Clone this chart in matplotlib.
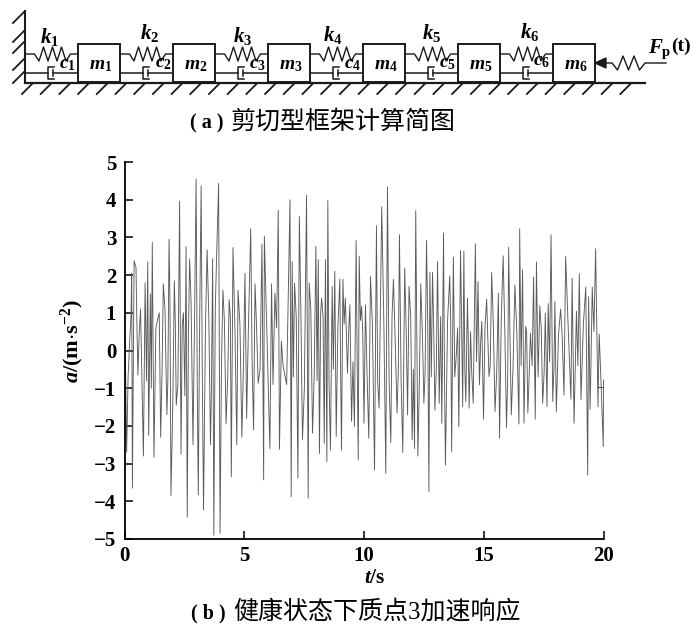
import numpy as np
import matplotlib
matplotlib.use('Agg')
import matplotlib.pyplot as plt

plt.rcParams['font.family'] = ['Liberation Serif', 'Noto Sans CJK SC']
plt.rcParams['mathtext.fontset'] = 'custom'
plt.rcParams['mathtext.rm'] = 'Liberation Serif:bold'
plt.rcParams['mathtext.it'] = 'Liberation Serif:italic:bold'
plt.rcParams['mathtext.bf'] = 'Liberation Serif:bold'

# acceleration response
t_s = [0.00, 0.03, 0.09, 0.22, 0.30, 0.33, 0.40, 0.48, 0.56, 0.67, 0.79, 0.86, 0.92, 0.97, 1.01, 1.08,
       1.16, 1.23, 1.39, 1.51, 1.62, 1.77, 1.86, 1.94, 2.08, 2.16, 2.30, 2.36, 2.46, 2.57, 2.62, 2.72,
       2.78, 2.86, 2.99, 3.08, 3.20, 3.30, 3.45, 3.59, 3.68, 3.73, 3.85, 3.93, 3.99, 4.11, 4.24, 4.37,
       4.46, 4.53, 4.69, 4.74, 4.90, 5.03, 5.10, 5.27, 5.39, 5.45, 5.58, 5.74, 5.81, 5.84, 6.07, 6.14,
       6.28, 6.42, 6.47, 6.55, 6.77, 6.91, 6.96, 7.00, 7.10, 7.24, 7.30, 7.43, 7.60, 7.67, 7.71, 7.85,
       7.99, 8.09, 8.14, 8.23, 8.34, 8.39, 8.45, 8.49, 8.60, 8.67, 8.78, 8.84, 8.99, 9.06, 9.12, 9.22,
       9.31, 9.41, 9.48, 9.60, 9.67, 9.76, 9.80, 9.90, 10.00, 10.06, 10.20, 10.27, 10.44, 10.52, 10.63,
       10.74, 10.91, 10.98, 11.12, 11.23, 11.38, 11.48, 11.62, 11.70, 11.82, 11.88, 12.01, 12.11, 12.16,
       12.25, 12.37, 12.50, 12.61, 12.71, 12.75, 12.86, 12.96, 13.07, 13.14, 13.25, 13.32, 13.40, 13.58,
       13.66, 13.73, 13.85, 13.96, 14.03, 14.12, 14.17, 14.25, 14.32, 14.39, 14.45, 14.56, 14.65, 14.76,
       14.82, 14.92, 14.99, 15.12, 15.22, 15.33, 15.47, 15.61, 15.66, 15.81, 15.95, 16.04, 16.15, 16.30,
       16.47, 16.50, 16.62, 16.68, 16.75, 16.84, 16.95, 17.08, 17.15, 17.20, 17.34, 17.46, 17.57, 17.64,
       17.69, 17.81, 17.88, 17.97, 18.03, 18.21, 18.35, 18.42, 18.64, 18.69, 18.77, 18.87, 18.99, 19.06,
       19.26, 19.34, 19.38, 19.44, 19.53, 19.67, 19.77, 19.82, 19.99, 20.00]
a_ms2 = [-1.0, 0.25, -2.7, 0.3, 2.05, -3.65, 2.38, 2.2, -0.65, 1.1, -2.8, 1.8, -0.8, 2.35, -2.25, 1.5,
         2.87, -2.83, 0.85, -2.3, 1.77, -1.7, 2.95, -3.85, 1.85, -1.45, 3.96, -2.75, 1.0, 2.75, -4.42, 2.43,
         1.27, -2.5, 4.55, -3.83, 4.37, -4.23, 2.67, -2.5, 2.43, -4.9, 2.6, 4.43, -4.85, 1.6, -1.95, 1.35,
         -3.35, 2.73, -2.5, 1.6, -2.3, 2.05, -1.8, 3.23, -2.1, 1.77, -0.87, 2.82, -3.43, 3.03, -2.6, 1.77,
         1.52, 3.72, -2.62, 0.25, -0.9, 4.0, -3.88, 2.36, 1.79, -3.39, 3.56, -2.37, 4.12, -3.92, 1.79, -2.19,
         2.76, 2.41, -2.73, 1.39, -2.46, 2.41, -2.95, 3.98, -2.64, 1.7, 2.1, -2.28, 1.89, -2.64, 1.89, 1.39,
         -0.6, 1.21, -1.88, -2.02, 2.92, -2.9, 2.5, 1.17, -1.93, 1.21, -2.33, 1.96, -3.17, 3.31, -1.53,
         3.81, -3.26, 4.34, -2.44, 1.89, -1.66, 3.07, -2.71, 2.19, -1.71, 1.7, -2.37, -2.6, 3.71,
         -2.8, 1.77, -1.4, 2.92, -3.74, 2.07, 2.07, -1.58, 2.36, -1.4, -1.93, 3.12, -3.04, 1.98,
         -2.68, 2.48, -0.16, -2.02, 2.65, -1.49, 2.63, -1.35, 1.39, -1.53, 0.5, -1.4, 2.83, 1.83,
         -0.91, 0.77, -1.82, 1.36, -0.69, 2.07, -1.62, 1.52, -2.33, 2.51, -2.04, 2.74, -1.71, 1.74,
         -1.95, 3.23, 2.14, -1.93, 0.64, -1.66, 0.46, 1.95, -1.82, 2.35, 1.19, -1.4, 0.99, -1.49,
         1.24, 3.07, -1.35, 1.3, -1.62, 1.1, -1.18, 2.5, -1.29, 1.92, -1.93, 1.04, 2.04, -1.31,
         1.68, -3.3, 1.43, -1.56, 1.68, 2.7, -1.49, 0.44, -2.55, -0.78]

# smaller swings inside the dense central band
t_band = [0.15, 0.27, 0.52, 0.61, 0.73, 1.12, 1.31, 1.45, 1.57, 1.69, 1.81, 1.90, 2.02, 2.12, 2.23, 2.41,
          2.52, 2.67, 2.82, 2.93, 3.04, 3.14, 3.25, 3.38, 3.52, 3.63, 3.79, 4.05, 4.17, 4.31, 4.42, 4.61,
          4.82, 4.96, 5.17, 5.33, 5.51, 5.66, 5.95, 6.20, 6.35, 6.62, 7.05, 7.17, 7.37, 7.51, 7.78, 7.92,
          8.04, 8.19, 8.29, 8.54, 8.72, 8.91, 9.03, 9.17, 9.36, 9.54, 9.72, 9.85, 9.95, 10.13, 10.35, 10.57,
          10.68, 10.83, 11.05, 11.17, 11.30, 11.43, 11.55, 11.76, 11.95, 12.06, 12.20, 12.31, 12.44, 12.55,
          12.66, 12.81, 12.91, 13.02, 13.20, 13.36, 13.49, 13.62, 13.79, 13.91, 14.08, 14.21, 14.35, 14.50,
          14.70, 14.87, 15.05, 15.17, 15.27, 15.40, 15.54, 15.73, 15.88, 16.00, 16.09, 16.22, 16.38, 16.56,
          16.79, 16.90, 17.02, 17.27, 17.40, 17.52, 17.75, 17.93, 18.12, 18.28, 18.52, 18.82, 18.93, 19.16,
          19.47, 19.60, 19.72, 19.90]
a_band = [-0.7, 0.9, 0.6, 0.4, -0.9, -1.0, 0.6, 1.0, -0.5, 1.1, -0.8, 1.2, -1.3, 0.8, -0.9, 0.7,
          -1.2, 0.5, -0.6, 1.1, -1.1, 0.9, -0.8, 0.6, 0.9, -1.0, 1.1, -0.3, 0.8, -0.7, 0.9, 0.6,
          0.7, -0.6, 0.5, -0.4, 0.7, -0.5, 0.3, -0.9, 0.6, -0.4, -0.7, 0.9, 0.8, -1.0, 1.1, -0.7,
          -0.8, 1.0, 0.9, -0.8, -0.5, 0.6, -0.9, 0.7, 0.5, -0.3, -0.6, 0.8, 0.4, -0.7, 0.7, -0.8,
          1.0, 0.7, -0.9, 0.9, 0.3, -0.6, -0.8, 0.6, 0.9, -0.5, 0.7, -0.9, 0.4, -0.6,
          0.8, -0.7, 0.6, -0.5, 0.9, -0.6, 0.8, 0.7, -0.7, 0.6, 0.5, -0.5, 0.4, -0.6,
          -0.3, 0.2, 0.6, 0.3, -0.4, 0.7, -0.6, 0.8, 0.5, -0.7, 0.6, -0.5, 0.5, -0.4,
          0.5, -0.6, -0.4, -0.7, 0.6, -0.6, -0.3, -0.5, 0.4, 0.3, 0.7, -0.5, -0.4, 0.7,
          -0.6, 0.5, 0.6, -0.9]
x_ticks = [0, 5, 10, 15, 20]
y_ticks = [-5, -4, -3, -2, -1, 0, 1, 2, 3, 4, 5]

# schematic (a), in image pixels
mass_left = [78, 173, 268, 363, 458, 553]
mass_w = 42
mass_top, mass_bot = 44, 82
spring_y, damper_y, ground_y = 54, 72.5, 83
wall_x = 25
hatch_wall_y = [23, 42, 53, 70, 83]
k_pos = [(50, 37), (150, 33), (243, 36), (333, 35), (432, 33), (530, 32)]
c_pos = [(67, 65), (163, 64), (258, 65), (353, 65), (447, 64), (542, 62)]
ink = '#1a1a1a'


def zigzag(x0, x1, y, n=4, amp=7):
    xs = np.linspace(x0, x1, 2 * n + 1)
    ys = [y] + [y + (amp if i % 2 == 0 else -amp) for i in range(2 * n - 1)] + [y]
    return xs, ys


fig = plt.figure(figsize=(7, 6.39), dpi=100)

# full-figure axes in pixels for the drawing and captions
bg = fig.add_axes([0, 0, 1, 1])
bg.set_xlim(0, 700)
bg.set_ylim(639, 0)
bg.axis('off')

bg.plot([wall_x, wall_x], [10, ground_y], color=ink, lw=1.5, solid_capstyle='butt')
bg.plot([wall_x, 645], [ground_y, ground_y], color=ink, lw=1.6)
for y in hatch_wall_y:
    bg.plot([wall_x, wall_x - 12], [y - 12, y], color=ink, lw=1.3)
for x in np.arange(22, 625, 18.7):
    bg.plot([x + 10, x], [ground_y + 1, ground_y + 11], color=ink, lw=1.3)

lefts = [wall_x] + [m + mass_w for m in mass_left[:-1]]
for i, (x0, m) in enumerate(zip(lefts, mass_left)):
    bg.add_patch(plt.Rectangle((m, mass_top), mass_w, mass_bot - mass_top, fc='white', ec=ink, lw=1.4, zorder=3))
    # spring
    mid = (x0 + m) / 2
    xs, ys = zigzag(mid - 17, mid + 19, spring_y)
    bg.plot([x0, *xs, m], [spring_y, *ys, spring_y], color=ink, lw=1.0)
    # damper
    dx = mid - 4
    bg.plot([x0, dx], [damper_y, damper_y], color=ink, lw=1.1)
    bg.plot([dx + 6, dx, dx, dx + 6], [damper_y - 6, damper_y - 6, damper_y + 6, damper_y + 6], color=ink, lw=1.1)
    bg.plot([dx + 5, dx + 5], [damper_y - 3, damper_y + 3], color=ink, lw=1.1)
    bg.plot([dx + 5, m], [damper_y, damper_y], color=ink, lw=1.1)
    bg.text(*k_pos[i], r'$k_{\mathrm{%d}}$' % (i + 1), fontsize=15, ha='center', va='center', color='black')
    bg.text(*c_pos[i], r'$c_{\mathrm{%d}}$' % (i + 1), fontsize=14, ha='center', va='center', color='black')
    bg.text(m + mass_w / 2 + 2, 66, r'$m_{\mathrm{%d}}$' % (i + 1), fontsize=14, ha='center', va='center', color='black', zorder=4)

# load on the last mass
xs, ys = zigzag(612, 645, 63, n=3)
bg.plot([605, *xs, 666], [63, *ys, 63], color=ink, lw=1.0)
bg.fill([595, 606, 606], [63, 58, 68], color=ink, zorder=4)
bg.text(648, 49, r'$F_{\mathrm{p}}$', fontsize=15, ha='left', va='center', color='black')
bg.text(671, 46, '(t)', fontsize=14, fontweight='bold', ha='left', va='center', color='black')

# captions
bg.text(190, 123, '( a )', fontsize=14.5, fontweight='bold', ha='left', va='center')
bg.text(231, 122, '剪切型框架计算简图', fontsize=18, ha='left', va='center', family=['Noto Sans CJK SC'])
bg.text(191, 613, '( b )', fontsize=14.5, fontweight='bold', ha='left', va='center')
bg.text(233, 612, '健康状态下质点3加速响应', fontsize=18, ha='left', va='center', family=['Liberation Serif', 'Noto Sans CJK SC'])

# response plot (b)
order = np.argsort(t_s + t_band)
t_all = np.array(t_s + t_band)[order]
a_all = np.array(a_ms2 + a_band)[order]

ax = fig.add_axes([124.5 / 700, (639 - 539) / 639, 479 / 700, 377 / 639])
ax.patch.set_alpha(0)
ax.plot(t_all, a_all, color='#5a5a5a', lw=0.65)
ax.plot([19.77, 19.99], [-0.97, -0.97], color='#303030', lw=0.6)
ax.set_xlim(0, 20)
ax.set_ylim(-5, 5)
ax.set_xticks(x_ticks)
ax.set_yticks(y_ticks)
ax.set_yticklabels(['\u2212%d' % -v if v < 0 else str(v) for v in y_ticks])
ax.spines['top'].set_visible(False)
ax.spines['right'].set_visible(False)
ax.spines['left'].set_linewidth(1.3)
ax.spines['bottom'].set_linewidth(1.3)
ax.tick_params(direction='in', length=6, width=1.1, labelsize=15)
ax.tick_params(axis='x', pad=5)
ax.tick_params(axis='y', pad=6)
for lab in ax.get_xticklabels() + ax.get_yticklabels():
    lab.set_fontweight('bold')
bg.text(375, 578, r'$t$/s', fontsize=15.5, ha='center', va='center', fontweight='bold')
bg.text(72, 341, r'$a$/(m$\cdot$s$^{\mathrm{-2}}$)', fontsize=16, rotation=90, ha='center', va='center', fontweight='bold')

fig.savefig('out.png', dpi=100)
